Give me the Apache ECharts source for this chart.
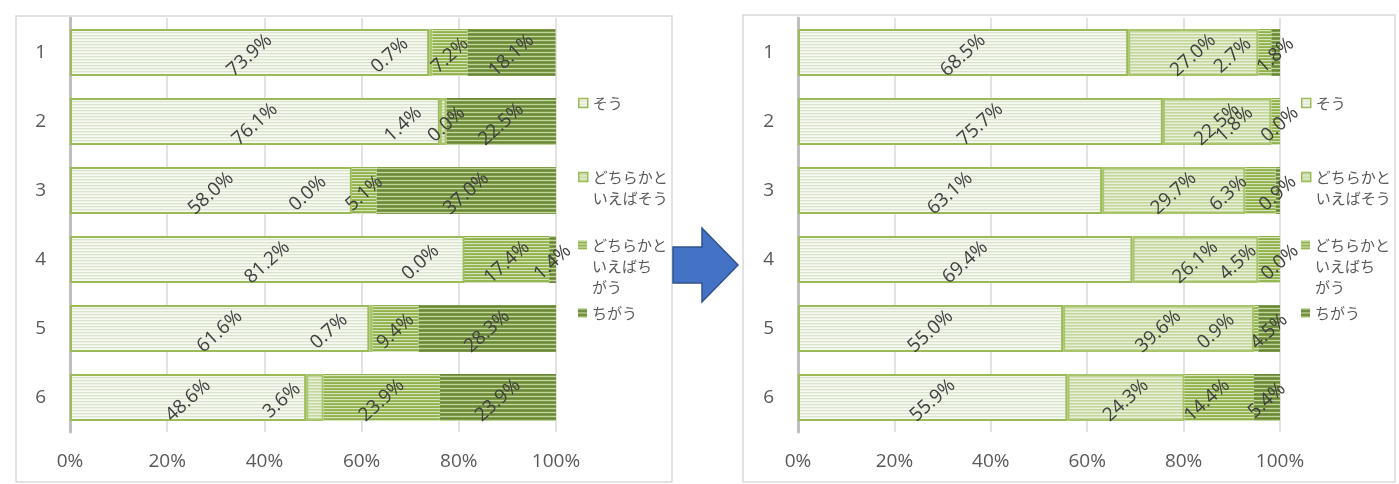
<!DOCTYPE html>
<html>
<head>
<meta charset="utf-8">
<script src="https://cdn.jsdelivr.net/npm/echarts@6/dist/echarts.min.js"></script>
<style>
  html, body { margin: 0; padding: 0; background: #ffffff; }
  #chart { width: 1399px; height: 484px; }
</style>
</head>
<body>
<div id="chart"></div>
<script>
// Categories (rows, top to bottom) and answer options
const categories = ['1', '2', '3', '4', '5', '6'];
const seriesNames = ['そう', 'どちらかといえばそう', 'どちらかといえばちがう', 'ちがう'];
const legendLabels = ['そう', 'どちらかと\nいえばそう', 'どちらかと\nいえばち\nがう', 'ちがう'];
const xTicks = [0, 20, 40, 60, 80, 100];

// Before (left panel), percent per row
const beforeSou = [73.9, 76.1, 58.0, 81.2, 61.6, 48.6];
const beforeRatherSou = [0.7, 1.4, 0.0, 0.0, 0.7, 3.6];
const beforeRatherChigau = [7.2, 0.0, 5.1, 17.4, 9.4, 23.9];
const beforeChigau = [18.1, 22.5, 37.0, 1.4, 28.3, 23.9];

// After (right panel), percent per row
const afterSou = [68.5, 75.7, 63.1, 69.4, 55.0, 55.9];
const afterRatherSou = [27.0, 22.5, 29.7, 26.1, 39.6, 24.3];
const afterRatherChigau = [2.7, 1.8, 6.3, 4.5, 0.9, 14.4];
const afterChigau = [1.8, 0.0, 0.9, 0.0, 4.5, 5.4];

// Horizontal label shifts (px) for labels moved off narrow segments
const beforeLabelShift = [-41, -40, -44, -44, -42, -33];
const afterLabelShift = [-32, -41, -32, -31, -40, -12];

// Horizontal stripe fills
function stripes(rows) {
  const c = document.createElement('canvas');
  c.width = 4;
  c.height = rows.length;
  const g = c.getContext('2d');
  rows.forEach((col, i) => { g.fillStyle = col; g.fillRect(0, i, 4, 1); });
  return { image: c, repeat: 'repeat' };
}
const fills = [
  stripes(['#EEF2E7', '#F6F8F2', '#DAE3CB']),
  stripes(['#E8EFDA', '#C3D79B', '#D3E1B6']),
  stripes(['#D6E3BC', '#9BBB59', '#8FB04D']),
  stripes(['#C2D49E', '#7E9B47', '#67843A', '#7E9B47'])
];
const borders = [
  { borderColor: '#9BBB59', borderWidth: 2 },
  { borderColor: '#A9C56C', borderWidth: 2 },
  { borderColor: '#9BBB59', borderWidth: 0 },
  { borderColor: '#76923C', borderWidth: 0 }
];

const textColor = '#595959';
const numFont = 'Open Sans';
const jpFont = 'Noto Sans CJK JP';
const labelAngle = 42;

// Label offset is applied in the label's rotated frame; convert a screen shift
function screenOffset(sx, sy) {
  const a = labelAngle * Math.PI / 180;
  return [sx * Math.cos(a) - sy * Math.sin(a), sx * Math.sin(a) + sy * Math.cos(a)];
}

function makeSeries(values, idx, panel, shift, shiftIdx) {
  return {
    name: seriesNames[idx],
    type: 'bar',
    stack: 'panel' + panel,
    xAxisIndex: panel,
    yAxisIndex: panel,
    barWidth: 47,
    itemStyle: Object.assign({ color: fills[idx] }, borders[idx]),
    label: {
      show: true,
      position: 'inside',
      rotate: labelAngle,
      offset: screenOffset(0, 3),
      color: '#404040',
      fontFamily: numFont,
      fontSize: 19,
      formatter: p => p.value.toFixed(1) + '%'
    },
    emphasis: { disabled: true },
    data: values.map((v, i) => idx === shiftIdx
      ? { value: v, label: { offset: screenOffset(shift[i], 3) } }
      : v)
  };
}

function makeX(panel) {
  return {
    type: 'value',
    gridIndex: panel,
    min: xTicks[0],
    max: xTicks[xTicks.length - 1],
    interval: xTicks[1] - xTicks[0],
    axisLine: { show: false },
    axisTick: { show: false },
    splitLine: { show: true, lineStyle: { color: '#D9D9D9', width: 1.5 } },
    axisLabel: { formatter: '{value}%', color: textColor, fontFamily: numFont, fontSize: 19, margin: 20 }
  };
}
function makeY(panel) {
  return {
    type: 'category',
    gridIndex: panel,
    inverse: true,
    data: categories,
    axisLine: { show: true, lineStyle: { color: '#BFBFBF', width: 3 } },
    axisTick: { show: false },
    axisLabel: { color: textColor, fontFamily: numFont, fontSize: 19, margin: 24 }
  };
}

// One legend block per entry so each sits at its own height; leading blank
// lines keep the marker level with the first line of a wrapped name
const lineH = 21;
const legendTops = [92.5, 145.5, 192.5, 302.5];
function makeLegends(left) {
  return seriesNames.map((name, i) => ({
    left: left,
    top: legendTops[i],
    padding: 0,
    orient: 'vertical',
    itemWidth: 9,
    itemHeight: 9,
    selectedMode: false,
    formatter: n => {
      const text = legendLabels[seriesNames.indexOf(n)];
      const lines = text.split('\n').length;
      return '\n'.repeat(lines - 1) + text;
    },
    textStyle: { color: textColor, fontFamily: jpFont, fontSize: 15, lineHeight: lineH },
    data: [{
      name: name,
      icon: 'rect',
      itemStyle: { borderColor: '#9BBB59', borderWidth: i < 2 ? 1.5 : 0 }
    }]
  }));
}

const chart = echarts.init(document.getElementById('chart'), null, { renderer: 'canvas' });
chart.setOption({
  animation: false,
  backgroundColor: '#ffffff',
  grid: [
    { left: 70, top: 18, width: 486, height: 414 },
    { left: 798, top: 18, width: 482, height: 414 }
  ],
  xAxis: [makeX(0), makeX(1)],
  yAxis: [makeY(0), makeY(1)],
  legend: makeLegends(578).concat(makeLegends(1301)),
  series: [
    makeSeries(beforeSou, 0, 0, beforeLabelShift, 1),
    makeSeries(beforeRatherSou, 1, 0, beforeLabelShift, 1),
    makeSeries(beforeRatherChigau, 2, 0, beforeLabelShift, 1),
    makeSeries(beforeChigau, 3, 0, beforeLabelShift, 1),
    makeSeries(afterSou, 0, 1, afterLabelShift, 2),
    makeSeries(afterRatherSou, 1, 1, afterLabelShift, 2),
    makeSeries(afterRatherChigau, 2, 1, afterLabelShift, 2),
    makeSeries(afterChigau, 3, 1, afterLabelShift, 2)
  ],
  graphic: [
    { type: 'rect', z: -10, shape: { x: 16, y: 16, width: 656, height: 466 },
      style: { fill: 'none', stroke: '#D9D9D9', lineWidth: 1.5 } },
    { type: 'rect', z: -10, shape: { x: 743, y: 15, width: 652, height: 467 },
      style: { fill: 'none', stroke: '#D9D9D9', lineWidth: 1.5 } },
    { type: 'polygon', z: 10,
      shape: { points: [[673, 247], [702, 247], [702, 228], [738, 265], [702, 302], [702, 283], [673, 283]] },
      style: { fill: '#4472C4', stroke: '#2F528F', lineWidth: 1.5 } }
  ]
});
</script>
</body>
</html>
